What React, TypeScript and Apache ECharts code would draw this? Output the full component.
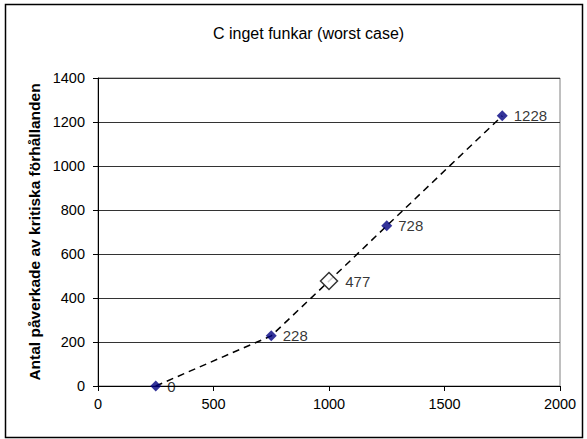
import React, { useEffect, useRef } from "react";
import * as echarts from "echarts";

const titleText = "C inget funkar (worst case)";
const yAxisName = "Antal påverkade av kritiska förhållanden";
const xValues = [250, 750, 1000, 1250, 1750];
const yValues = [0, 228, 477, 728, 1228];
const markedIndex = 2;

export default function App() {
  const ref = useRef<HTMLDivElement>(null);
  useEffect(() => {
    document.body.style.margin = "0";
    const chart = echarts.init(ref.current!, null, { renderer: "svg" });
    const lineData = xValues.map((x, i) => [x, yValues[i]]);
    const normalPts = lineData.filter((_, i) => i !== markedIndex);
    const markedPts = lineData.filter((_, i) => i === markedIndex);
    const font = "'Liberation Sans', Arial, sans-serif";
    const labelStyle = {
      show: true,
      position: "right",
      formatter: (p: any) => String(p.value[1]),
      color: "#000",
      fontSize: 15,
      fontFamily: font,
      textBorderWidth: 0,
    };
    chart.setOption({
      animation: false,
      backgroundColor: "#fff",
      textStyle: { fontFamily: font },
      title: {
        text: titleText,
        left: 208,
        top: 20,
        textStyle: { fontFamily: font, fontSize: 16, fontWeight: "normal", color: "#000" },
      },
      graphic: [
        {
          type: "rect",
          shape: { x: 5.5, y: 4.5, width: 577, height: 433 },
          style: { fill: "none", stroke: "#000", lineWidth: 1.5 },
          z: 100,
        },
      ],
      grid: {
        left: 98,
        right: 27,
        top: 78,
        bottom: 53,
        show: true,
        borderColor: "#808080",
        borderWidth: 1,
      },
      xAxis: {
        type: "value",
        min: 0,
        max: 2000,
        interval: 500,
        axisLine: { show: true, onZero: false, lineStyle: { color: "#000", width: 1 } },
        axisTick: { show: true, inside: false, length: 5, lineStyle: { color: "#000" } },
        axisLabel: { color: "#000", fontSize: 14.5, fontFamily: font, margin: 10, formatter: (v: number) => String(v) },
        splitLine: { show: false },
      },
      yAxis: {
        type: "value",
        min: 0,
        max: 1400,
        interval: 200,
        name: yAxisName,
        nameLocation: "middle",
        nameGap: 56,
        nameMoveOverlap: false,
        nameTextStyle: { fontWeight: "bold", fontSize: 15.5, color: "#000", fontFamily: font },
        axisLine: { show: true, onZero: false, lineStyle: { color: "#000", width: 1 } },
        axisTick: { show: true, inside: false, length: 5, lineStyle: { color: "#000" } },
        axisLabel: { color: "#000", fontSize: 14.5, fontFamily: font, margin: 13, formatter: (v: number) => String(v) },
        splitLine: { show: true, lineStyle: { color: "#333", width: 1 } },
      },
      series: [
        {
          type: "line",
          data: lineData,
          symbol: "none",
          lineStyle: { color: "#000", width: 1.5, type: [7, 5] },
          z: 2,
        },
        {
          type: "scatter",
          data: normalPts,
          symbol: "diamond",
          symbolSize: 11,
          itemStyle: { color: "#000080" },
          label: { ...labelStyle, distance: 6 },
          z: 3,
        },
        {
          type: "scatter",
          data: markedPts,
          symbol: "diamond",
          symbolSize: 17,
          itemStyle: { color: "#fff", borderColor: "#000", borderWidth: 1.5 },
          label: { ...labelStyle, distance: 7 },
          z: 3,
        },
      ],
    });
    return () => chart.dispose();
  }, []);
  return (
    <div
      ref={ref}
      style={{ position: "absolute", left: 0, top: 0, width: 587, height: 439 }}
    />
  );
}
